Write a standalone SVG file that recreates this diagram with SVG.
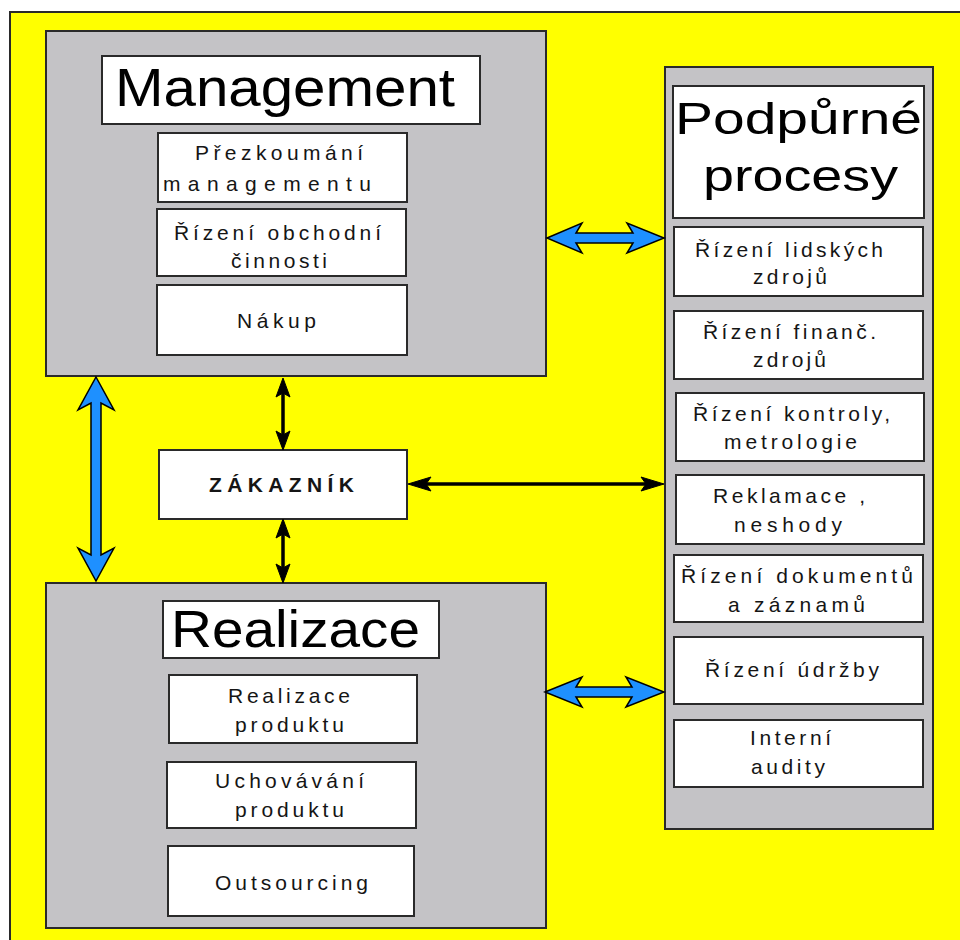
<svg xmlns="http://www.w3.org/2000/svg" width="960" height="940" viewBox="0 0 960 940">
<style>
.panel{fill:#c4c3c6;stroke:#2a2a2a;stroke-width:2}
.box{fill:#ffffff;stroke:#2a2a2a;stroke-width:2}
.t{font-family:"Liberation Sans",Arial,sans-serif;font-size:21px;fill:#151515}
.big{font-family:"Liberation Sans",Arial,sans-serif;fill:#000}
.blue{fill:#1e90ff;stroke:#000;stroke-width:1.5;stroke-linejoin:miter}
.bl{stroke:#000;stroke-width:3.5;fill:none}
.bh{fill:#000;stroke:#000;stroke-width:1}
</style>
<rect width="960" height="940" fill="#ffffff"/>
<rect x="10" y="12" width="960" height="940" fill="#ffff00" stroke="#2a2a2a" stroke-width="2"/>

<g id="management">
<rect class="panel" x="46" y="31" width="500" height="345"/>
<rect class="box" x="102" y="56" width="378" height="68"/>
<text class="big" x="115" y="106" font-size="54" textLength="340" lengthAdjust="spacingAndGlyphs">Management</text>
<g id="prezkoumani">
<rect class="box" x="158" y="133" width="249" height="69"/>
<text class="t" x="195" y="160" textLength="168">Přezkoumání</text>
<text class="t" x="163" y="191" textLength="208">managementu</text>
</g>
<g id="rizeni-obchodni">
<rect class="box" x="157" y="209" width="249" height="67"/>
<text class="t" x="174" y="240" textLength="207">Řízení obchodní</text>
<text class="t" x="231" y="268" textLength="96">činnosti</text>
</g>
<g id="nakup">
<rect class="box" x="157" y="285" width="250" height="70"/>
<text class="t" x="237" y="328" textLength="79">Nákup</text>
</g>
</g>

<g id="zakaznik">
<rect class="box" x="159" y="450" width="248" height="69"/>
<text class="t" x="209" y="492" font-size="22" font-weight="bold" textLength="145">ZÁKAZNÍK</text>
</g>

<g id="realizace">
<rect class="panel" x="46" y="583" width="500" height="345"/>
<rect class="box" x="163" y="601" width="276" height="57"/>
<text class="big" x="171" y="647" font-size="52" textLength="249" lengthAdjust="spacingAndGlyphs">Realizace</text>
<g id="realizace-produktu">
<rect class="box" x="169" y="675" width="248" height="68"/>
<text class="t" x="228" y="703" textLength="122">Realizace</text>
<text class="t" x="235" y="732" textLength="109">produktu</text>
</g>
<g id="uchovavani">
<rect class="box" x="167" y="762" width="249" height="66"/>
<text class="t" x="215" y="788" textLength="149">Uchovávání</text>
<text class="t" x="235" y="817" textLength="109">produktu</text>
</g>
<g id="outsourcing">
<rect class="box" x="168" y="846" width="246" height="70"/>
<text class="t" x="215" y="890" textLength="153">Outsourcing</text>
</g>
</g>

<g id="podpurne">
<rect class="panel" x="665" y="67" width="268" height="762"/>
<rect class="box" x="673" y="86" width="251" height="132"/>
<text class="big" x="675" y="134" font-size="44" textLength="247" lengthAdjust="spacingAndGlyphs">Podpůrné</text>
<text class="big" x="703" y="191" font-size="44" textLength="195" lengthAdjust="spacingAndGlyphs">procesy</text>
<g id="lidske-zdroje">
<rect class="box" x="674" y="227" width="249" height="69"/>
<text class="t" x="695" y="257" textLength="188">Řízení lidských</text>
<text class="t" x="753" y="284" textLength="74">zdrojů</text>
</g>
<g id="financni-zdroje">
<rect class="box" x="674" y="311" width="249" height="68"/>
<text class="t" x="703" y="339" textLength="173">Řízení finanč.</text>
<text class="t" x="753" y="367" textLength="73">zdrojů</text>
</g>
<g id="kontrola">
<rect class="box" x="676" y="393" width="248" height="68"/>
<text class="t" x="693" y="421" textLength="197">Řízení kontroly,</text>
<text class="t" x="724" y="449" textLength="133">metrologie</text>
</g>
<g id="reklamace">
<rect class="box" x="676" y="475" width="248" height="69"/>
<text class="t" x="713" y="503" textLength="152">Reklamace ,</text>
<text class="t" x="734" y="532" textLength="108">neshody</text>
</g>
<g id="dokumenty">
<rect class="box" x="674" y="555" width="249" height="67"/>
<text class="t" x="681" y="583" textLength="232">Řízení dokumentů</text>
<text class="t" x="728" y="612" textLength="137">a záznamů</text>
</g>
<g id="udrzba">
<rect class="box" x="674" y="637" width="249" height="67"/>
<text class="t" x="705" y="677" textLength="174">Řízení údržby</text>
</g>
<g id="audity">
<rect class="box" x="674" y="720" width="249" height="67"/>
<text class="t" x="750" y="745" textLength="81">Interní</text>
<text class="t" x="751" y="774" textLength="74">audity</text>
</g>
</g>

<g id="connectors">
<polygon class="blue" points="547,238 582,223 576,233 633,233 627,223 664,238 627,253 633,243 576,243 582,253"/>
<polygon class="blue" points="545,692 582,677 576,687 632,687 626,677 664,692 626,707 632,697 576,697 582,707"/>
<polygon class="blue" points="96,377 114,410 101,403 101,555 114,548 96,581 78,548 91,555 91,403 78,410"/>

<line class="bl" x1="283" y1="390" x2="283" y2="438"/>
<polygon class="bh" points="283,378 290,397 283,393 276,397"/>
<polygon class="bh" points="283,450 290,431 283,435 276,431"/>

<line class="bl" x1="283" y1="531" x2="283" y2="571"/>
<polygon class="bh" points="283,519 290,538 283,534 276,538"/>
<polygon class="bh" points="283,583 290,564 283,568 276,564"/>

<line class="bl" x1="420" y1="484" x2="652" y2="484"/>
<polygon class="bh" points="408,484 431,477 426,484 431,491"/>
<polygon class="bh" points="664,484 641,477 646,484 641,491"/>
</g>
</svg>
